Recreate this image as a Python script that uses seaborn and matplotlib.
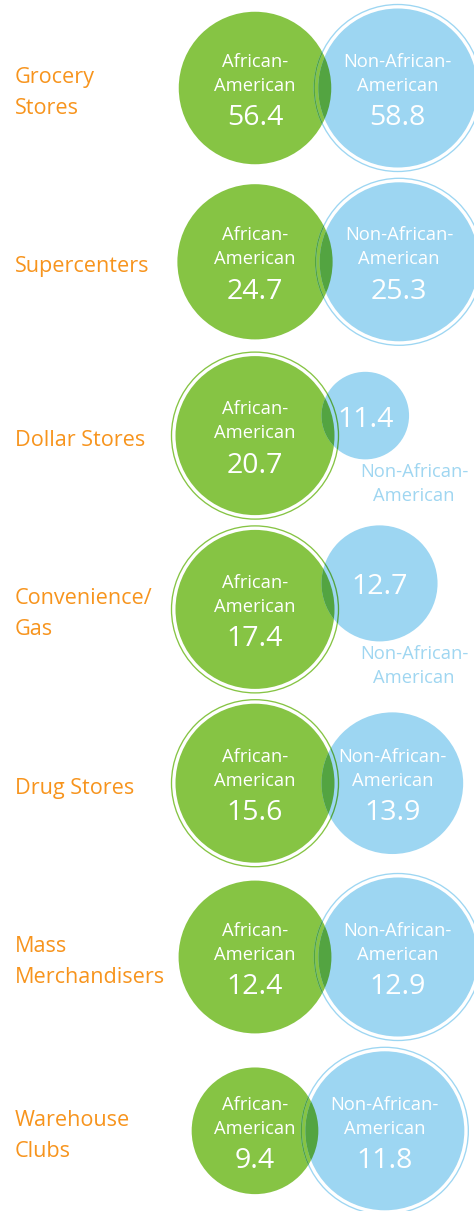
import numpy as np
import matplotlib
matplotlib.use("Agg")
import matplotlib.pyplot as plt
import seaborn as sns
from matplotlib.patches import Circle

# ---------------- data ----------------
categories = ["Grocery\nStores", "Supercenters", "Dollar Stores", "Convenience/\nGas",
              "Drug Stores", "Mass\nMerchandisers", "Warehouse\nClubs"]
african_american = [56.4, 24.7, 20.7, 17.4, 15.6, 12.4, 9.4]
non_african_american = [58.8, 25.3, 11.4, 12.7, 13.9, 12.9, 11.8]
series_labels = ["African-\nAmerican", "Non-African-\nAmerican"]

# ---------------- style ----------------
sns.set_theme(style="white")
plt.rcParams['font.family'] = ['Open Sans', 'DejaVu Sans']

GREEN = "#86C444"
BLUE = "#9DD6F2"
ORANGE = "#F7941D"
LABEL_BLUE = "#9FD6F1"

def multiply(c1, c2):
    a = np.array(matplotlib.colors.to_rgb(c1))
    b = np.array(matplotlib.colors.to_rgb(c2))
    return tuple(a * b)

DARK = multiply(GREEN, BLUE)

W, H = 474, 1211
fig = plt.figure(figsize=(W / 100, H / 100), dpi=100)
ax = fig.add_axes([0, 0, 1, 1])
ax.set_xlim(0, W)
ax.set_ylim(H, 0)
ax.axis("off")

R = 79.5          # radius of the larger circle in each row (px)
GAP = 4.0         # gap between fill and outer ring
RING_LW = 0.95
ROW0, ROW_STEP = 88, 173.8
GX = 255
OVERLAP = 13
blue_dy = [0, 0, -20, -26, 0, 0, 0]   # layout nudges for small blue circles

FS_LINE = 13.2
FS_VAL = 20.5
FS_CAT = 15.6

def lines_text(x, y_first, text, step, **kw):
    for k, p in enumerate(text.split("\n")):
        ax.text(x, y_first + k * step, p, va="baseline", **kw)

for i, (cat, a, b) in enumerate(zip(categories, african_american, non_african_american)):
    y = ROW0 + i * ROW_STEP
    m = max(a, b)
    rg = R * a / m
    rb = R * b / m
    gx, gy = GX, y
    bx = gx + rg + rb - OVERLAP
    by = y + blue_dy[i]

    # green layer
    if a >= b:
        ax.add_patch(Circle((gx, gy), rg + GAP, fill=False, ec=GREEN, lw=RING_LW, zorder=1))
    ax.add_patch(Circle((gx, gy), rg, fc=GREEN, ec="none", zorder=2))

    # blue layer
    ax.add_patch(Circle((bx, by), rb, fc=BLUE, ec="none", zorder=3))
    if b > a:
        ax.add_patch(Circle((bx, by), rb + GAP, fill=False, ec=BLUE, lw=RING_LW, zorder=3))

    # multiply-blend overlap
    lens = Circle((bx, by), rb, fc=DARK, ec="none", zorder=4)
    ax.add_patch(lens)
    lens.set_clip_path(Circle((gx, gy), rg, transform=ax.transData))
    if b > a:
        rr = Circle((bx, by), rb + GAP, fill=False, ec=DARK, lw=RING_LW, zorder=4)
        ax.add_patch(rr)
        rr.set_clip_path(Circle((gx, gy), rg, transform=ax.transData))
    else:
        gr = Circle((gx, gy), rg + GAP, fill=False, ec=DARK, lw=RING_LW, zorder=4)
        ax.add_patch(gr)
        gr.set_clip_path(Circle((bx, by), rb, transform=ax.transData))

    # texts inside circles
    lines_text(gx, gy - 21.3, series_labels[0], 24, color="white", fontsize=FS_LINE,
               ha="center", zorder=6)
    ax.text(gx, gy + 37, f"{a:.1f}", color="white", fontsize=FS_VAL,
            ha="center", va="baseline", zorder=6)
    if rb >= 65:
        lines_text(bx, by - 21.3, series_labels[1], 24, color="white", fontsize=FS_LINE,
                   ha="center", zorder=6)
        ax.text(bx, by + 37, f"{b:.1f}", color="white", fontsize=FS_VAL,
                ha="center", va="baseline", zorder=6)
    else:
        ax.text(bx, by + 11, f"{b:.1f}", color="white", fontsize=FS_VAL,
                ha="center", va="baseline", zorder=6)
        lines_text(414, by + rb + 18, series_labels[1], 24, color=LABEL_BLUE,
                   fontsize=FS_LINE, ha="center", zorder=6)

    # row label
    n_lines = len(cat.split("\n"))
    lines_text(15, y + 10.5 - (n_lines - 1) * 15.5, cat, 31, color=ORANGE,
               fontsize=FS_CAT, ha="left", zorder=6)

fig.savefig("out.png", dpi=100)
